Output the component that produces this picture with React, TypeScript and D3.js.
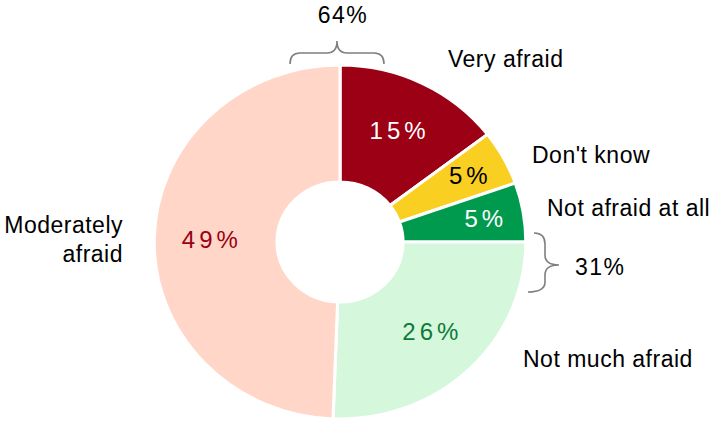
import * as React from 'react';
import * as d3 from 'd3';

// slices clockwise from 12 o'clock
const categories = ['Very afraid', "Don't know", 'Not afraid at all', 'Not much afraid', 'Moderately afraid'];
const values = [14.6, 5.0, 5.4, 25.6, 49.4];
const shownPct = [15, 5, 5, 26, 49];
const sliceColors = ['#9B0014', '#F9CF22', '#009A4E', '#D5F7DB', '#FFD6C8'];
const pctColors = ['#FFFFFF', '#000000', '#FFFFFF', '#0E7A3A', '#9B0014'];

// groups shown with braces
const afraidGroup = [0, 4];
const notAfraidGroup = [2, 3];

const W = 716;
const H = 421;
const cx = 340;
const cy = 242;
const sx = 1.05; // the original donut is slightly wider than tall
const inner = 60;
const outer = 177;

const font = '"Liberation Sans", Arial, sans-serif';

// where the category names sit (start x / baseline)
const nameLayout = [
  { x: 448, y: 67, anchor: 'start' },
  { x: 532, y: 163, anchor: 'start' },
  { x: 547, y: 216, anchor: 'start' },
  { x: 523, y: 367, anchor: 'start' },
  { x: 123, y: 233, anchor: 'end' },
];

const arc = d3.arc<d3.PieArcDatum<number>>().innerRadius(inner).outerRadius(outer);

const App: React.FC = () => {
  const arcs = d3.pie<number>().sort(null).value((d) => d)(values);

  const sumOf = (idx: number[]) => idx.reduce((s, i) => s + shownPct[i], 0);

  return (
    <svg
      width={W}
      height={H}
      viewBox={`0 0 ${W} ${H}`}
      style={{ position: 'absolute', left: 0, top: 0, background: '#fff' }}
    >
      <g transform={`translate(${cx},${cy}) scale(${sx},1)`}>
        {arcs.map((a, i) => (
          <path key={i} d={arc(a) || ''} fill={sliceColors[i]} stroke="#fff" strokeWidth={3} />
        ))}
      </g>

      {/* percent labels inside the slices */}
      {arcs.map((a, i) => {
        const mid = (a.startAngle + a.endAngle) / 2;
        const r = values[i] < 10 ? 139 : 124;
        const x = cx + sx * r * Math.sin(mid);
        const y = cy - r * Math.cos(mid);
        return (
          <text
            key={i}
            x={x + 2}
            y={y}
            dy="0.36em"
            textAnchor="middle"
            fill={pctColors[i]}
            style={{ fontFamily: font, fontSize: 24, letterSpacing: 4 }}
          >
            {shownPct[i]}%
          </text>
        );
      })}

      {/* category names */}
      {categories.map((c, i) => {
        const l = nameLayout[i];
        const lines = c === 'Moderately afraid' ? ['Moderately', 'afraid'] : [c];
        return (
          <text
            key={i}
            x={l.x}
            y={l.y}
            textAnchor={l.anchor}
            fill="#000"
            style={{ fontFamily: font, fontSize: 23, letterSpacing: 0.5 }}
          >
            {lines.map((t, j) => (
              <tspan key={j} x={l.x} dy={j === 0 ? 0 : 29}>
                {t}
              </tspan>
            ))}
          </text>
        );
      })}

      {/* top brace: afraid total */}
      <path
        d="M290,64 Q290,53 300,53 L327,53 Q337,53 337,41 Q337,53 347,53 L374,53 Q384,53 384,64"
        fill="none"
        stroke="#7F7F7F"
        strokeWidth={1.6}
      />
      <text
        x={343}
        y={23}
        textAnchor="middle"
        fill="#000"
        style={{ fontFamily: font, fontSize: 23, letterSpacing: 1.5 }}
      >
        {sumOf(afraidGroup)}%
      </text>

      {/* right brace: not afraid total */}
      <path
        d="M534,233 Q545,233 545,244 L545,255 Q545,265 559,265 Q545,265 545,275 L545,282 Q545,292 528,292"
        fill="none"
        stroke="#7F7F7F"
        strokeWidth={1.6}
      />
      <text
        x={575}
        y={275}
        textAnchor="start"
        fill="#000"
        style={{ fontFamily: font, fontSize: 23, letterSpacing: 1.5 }}
      >
        {sumOf(notAfraidGroup)}%
      </text>
    </svg>
  );
};

export default App;
